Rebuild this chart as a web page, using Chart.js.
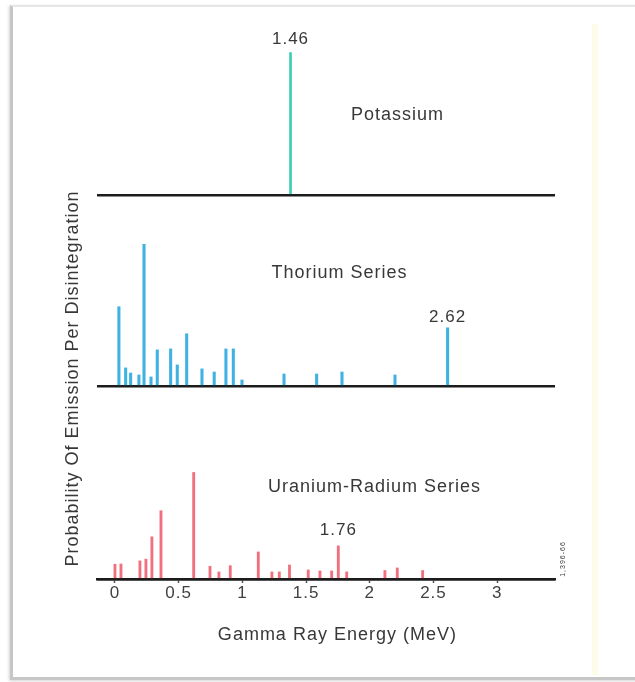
<!DOCTYPE html>
<html><head><meta charset="utf-8">
<script src="https://cdn.jsdelivr.net/npm/chart.js@4.4.1/dist/chart.umd.min.js"></script>
<style>
html,body{margin:0;padding:0;background:#fff;width:635px;height:682px;overflow:hidden;position:relative;}
#frame{position:absolute;left:10px;top:5px;width:700px;height:670px;border-top:2px solid #e6e6e6;border-left:3px solid #c6c6c6;border-bottom:3px solid #c6c6c6;box-shadow:-1px 1px 3px rgba(0,0,0,0.18);}
#band{position:absolute;left:592px;top:24px;width:6px;height:651px;background:#fcfce8;}
canvas{position:absolute;left:0;top:0;}
</style></head><body>
<div id="frame"></div><div id="band"></div>
<canvas id="cK" width="635" height="200"></canvas>
<canvas id="cB" width="635" height="682"></canvas>
<script>
// ---------------- data ----------------
const potassiumEnergy = [1.46];
const potassiumProb   = [101];

const thoriumEnergy = [0.031,0.084,0.123,0.188,0.228,0.283,0.332,0.437,0.489,0.563,0.683,0.779,0.871,0.929,0.997,1.327,1.583,1.782,2.198,2.611];
const thoriumProb   = [56,12.8,9.2,7.8,100,6.4,25.5,26.2,14.9,36.9,12.1,9.9,26.2,26.2,4.3,8.5,8.5,9.9,7.8,41.1];

const uraniumEnergy = [0.0,0.047,0.196,0.243,0.29,0.361,0.618,0.746,0.816,0.905,1.125,1.232,1.29,1.37,1.517,1.609,1.701,1.753,1.819,2.119,2.216,2.415];
const uraniumProb   = [10.4,10.6,12.8,14.0,29.8,48.2,75.2,9.0,5.0,9.4,19.1,5.0,5.0,9.9,6.4,5.7,5.7,23.4,5.0,6.0,7.8,6.0];

const tickValues = [0,0.5,1,1.5,2,2.5,3];
const tickLabels = ['0','0.5','1','1.5','2','2.5','3'];

const seriesNames = ['Potassium','Thorium Series','Uranium-Radium Series'];
const peakLabels  = ['1.46','2.62','1.76'];
const xTitle = 'Gamma Ray Energy (MeV)';
const yTitle = 'Probability Of Emission Per Disintegration';
const figureId = '1,396-66';

// ---------------- styling / layout ----------------
const FONT = "'Liberation Sans', Arial, Helvetica, sans-serif";
const TEXT = '#383838';
const AXIS = '#1c1c1c';
Chart.defaults.font.family = FONT;
Chart.defaults.color = TEXT;

const X_MIN = -0.141, X_MAX = 3.454;
const K_SHIFT = 0.082;            // potassium panel is drawn slightly offset in the original

const spacing = {
  id: 'spacing',
  beforeLayout(c){ c.ctx.letterSpacing = '1px'; },
  beforeDraw(c){ c.ctx.letterSpacing = '1px'; }
};

function annot(items){
  return {
    id: 'annot',
    afterDatasetsDraw(chart){
      const ctx = chart.ctx, xs = chart.scales.x, area = chart.chartArea;
      ctx.save();
      ctx.letterSpacing = '1px';
      ctx.fillStyle = TEXT;
      for (const t of items){
        ctx.font = t.font;
        ctx.textAlign = t.align || 'center';
        ctx.textBaseline = 'middle';
        const x = t.xPx !== undefined ? area.right + t.xPx : xs.getPixelForValue(t.x);
        const y = t.axis ? chart.scales[t.axis].getPixelForValue(t.y) + (t.dy || 0)
                         : area.bottom + t.below;
        if (t.rot){
          ctx.save(); ctx.translate(x, y); ctx.rotate(t.rot);
          ctx.fillText(t.text, 0, 0); ctx.restore();
        } else {
          ctx.fillText(t.text, x, y);
        }
      }
      ctx.restore();
    }
  };
}

const hiddenY = (max, extra) => Object.assign({
  type: 'linear', position: 'left', min: 0, max: max,
  afterBuildTicks: s => { s.ticks = [{value: 0}]; },
  ticks: {display: false},
  border: {display: false},
  grid: {display: true, drawTicks: false, color: AXIS, lineWidth: 2.5}
}, extra || {});

const common = {
  responsive: false,
  animation: false,
  events: [],
  plugins: {legend: {display: false}, tooltip: {enabled: false}}
};

// ---------------- potassium panel ----------------
new Chart(document.getElementById('cK'), {
  type: 'bar',
  data: {datasets: [{
    data: potassiumEnergy.map((e, i) => ({x: e, y: potassiumProb[i]})),
    backgroundColor: '#3ccdb4', barThickness: 2, grouped: false
  }]},
  options: Object.assign({}, common, {
    layout: {padding: {left: 97, right: 80, top: 30, bottom: 5}},
    scales: {
      x: {type: 'linear', min: X_MIN + K_SHIFT, max: X_MAX + K_SHIFT, offset: false, display: false},
      y: hiddenY(117)
    }
  }),
  plugins: [spacing, annot([
    {text: peakLabels[0], x: potassiumEnergy[0], y: potassiumProb[0], axis: 'y', dy: -13, font: '17px ' + FONT},
    {text: seriesNames[0], x: 1.934, y: 56.7, axis: 'y', align: 'left', font: '18px ' + FONT}
  ])]
});

// ---------------- thorium + uranium panels ----------------
new Chart(document.getElementById('cB'), {
  type: 'bar',
  data: {datasets: [
    {data: thoriumEnergy.map((e, i) => ({x: e, y: thoriumProb[i]})),
     yAxisID: 'yTh', backgroundColor: '#3fb2e2', barThickness: 2.4, grouped: false},
    {data: uraniumEnergy.map((e, i) => ({x: e, y: uraniumProb[i]})),
     yAxisID: 'yU', backgroundColor: '#f0707e', barThickness: 2.2, grouped: false}
  ]},
  options: Object.assign({}, common, {
    layout: {padding: {left: 62.4, right: 80, top: 178, bottom: 78.6}},
    scales: {
      x: {
        type: 'linear', position: 'bottom', min: X_MIN, max: X_MAX, offset: false,
        afterBuildTicks: s => { s.ticks = tickValues.map(v => ({value: v})); },
        ticks: {callback: (v, i) => tickLabels[i], font: {size: 17}, color: '#404040', padding: 0, maxRotation: 0, autoSkip: false},
        grid: {display: true, offset: false, drawOnChartArea: false, drawTicks: true, tickLength: 4, tickColor: '#555', tickWidth: 1.5},
        border: {display: true, color: AXIS, width: 2.5}
      },
      yTitle: {
        type: 'linear', position: 'left', weight: 10, min: 0, max: 1,
        ticks: {display: false}, grid: {display: false, drawTicks: false}, border: {display: false},
        title: {display: true, text: yTitle, font: {size: 18}, color: TEXT, padding: {top: 0, bottom: 13}}
      },
      yTh: hiddenY(146.8, {stack: 'panels', stackWeight: 207, weight: 6}),
      yU:  hiddenY(136.2, {stack: 'panels', stackWeight: 192, weight: 5})
    }
  }),
  plugins: [spacing, annot([
    {text: seriesNames[1], x: 1.228, y: 79.4, axis: 'yTh', align: 'left', font: '18px ' + FONT},
    {text: peakLabels[1], x: thoriumEnergy[19], y: thoriumProb[19], axis: 'yTh', dy: -10, font: '17px ' + FONT},
    {text: seriesNames[2], x: 1.201, y: 65.2, axis: 'yU', align: 'left', font: '18px ' + FONT},
    {text: peakLabels[2], x: uraniumEnergy[17], y: uraniumProb[17], axis: 'yU', dy: -16, font: '17px ' + FONT},
    {text: xTitle, x: 1.746, below: 56, font: '18px ' + FONT},
    {text: figureId, xPx: 8, below: -20, rot: -Math.PI / 2, font: '7px ' + FONT}
  ])]
});
</script>
</body></html>
